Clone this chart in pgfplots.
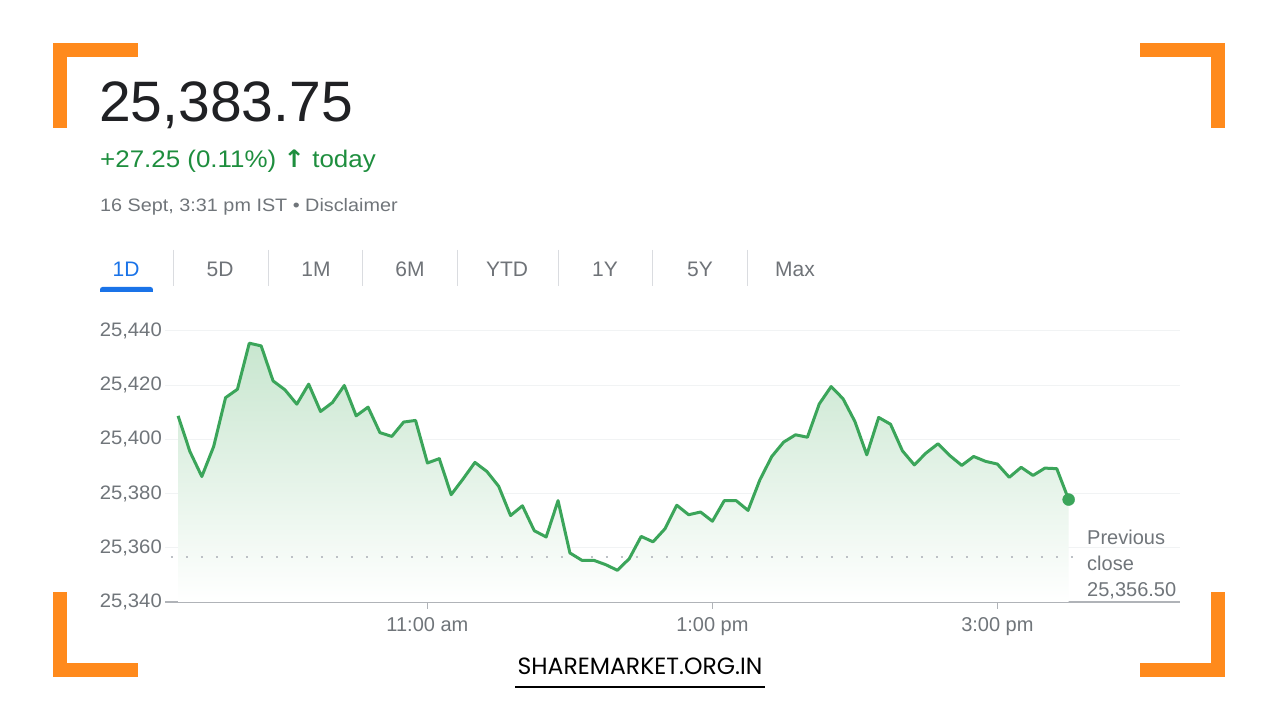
\documentclass[border=0pt]{standalone}
\usepackage{fontspec}
\setmainfont{Liberation Sans}
\newfontfamily\poppins{Poppins}
\newfontfamily\dejavu{DejaVu Sans}
\usepackage{pgfplots}
\pgfplotsset{compat=1.18}
\usepackage{pgfplotstable}
\definecolor{darktext}{HTML}{202124}
\definecolor{gtext}{HTML}{1E8E3E}
\definecolor{greytext}{HTML}{70757A}
\definecolor{tabgrey}{HTML}{6F7378}
\definecolor{gblue}{HTML}{1A73E8}
\definecolor{sepgrey}{HTML}{DADCE0}
\definecolor{borange}{HTML}{FF8A1C}
\definecolor{lgreen}{HTML}{3BA55A}
\definecolor{axisgrey}{HTML}{B0B3B8}
\definecolor{gridgrey}{HTML}{F1F3F4}
\definecolor{dotgrey}{HTML}{BDC1C6}
\definecolor{filltop}{HTML}{C8E6CF}
\definecolor{fillmid}{HTML}{F0F8F2}

\pgfplotstableread{
t v
555 25408.7
560 25395.5
565 25386.3
570 25397.4
575 25415.4
580 25418.5
585 25435.5
590 25434.5
595 25421.6
600 25418.3
605 25413.0
610 25420.4
615 25410.3
620 25413.6
625 25419.9
630 25408.7
635 25411.9
640 25402.5
645 25401.1
650 25406.4
655 25407.0
660 25391.3
665 25392.9
670 25379.6
675 25385.4
680 25391.5
685 25388.2
690 25382.7
695 25371.9
700 25375.5
705 25366.3
710 25364.0
715 25377.4
720 25358.1
725 25355.4
730 25355.4
735 25353.8
740 25351.7
745 25356.0
750 25364.2
755 25362.2
760 25367.0
765 25375.7
770 25372.2
775 25373.2
780 25369.8
785 25377.4
790 25377.4
795 25373.8
800 25385.1
805 25393.7
810 25399.0
815 25401.7
820 25400.8
825 25413.1
830 25419.5
835 25415.0
840 25406.6
845 25394.3
850 25408.1
855 25405.6
860 25395.8
865 25390.6
870 25395.0
875 25398.4
880 25394.0
885 25390.4
890 25393.7
895 25391.9
900 25390.9
905 25386.0
910 25389.7
915 25386.7
920 25389.4
925 25389.2
930 25377.8
}\nifty

\begin{document}
\begin{tikzpicture}[x=1pt,y=1pt]
\fill[white] (0,0) rectangle (1280,720);
\path[use as bounding box] (0,0) rectangle (1280,720);

% orange corner brackets
\fill[borange] (53,677) rectangle (138,663);
\fill[borange] (53,677) rectangle (67,592);
\fill[borange] (1140,677) rectangle (1225,663);
\fill[borange] (1211,677) rectangle (1225,592);
\fill[borange] (53,128) rectangle (67,43);
\fill[borange] (53,57) rectangle (138,43);
\fill[borange] (1211,128) rectangle (1225,43);
\fill[borange] (1140,57) rectangle (1225,43);

% header texts
\node[anchor=base west, inner sep=0pt, text=darktext, font=\fontsize{57}{57}\selectfont] at (99,598) {25,383.75};
\node[anchor=base west, inner sep=0pt, text=gtext, font=\fontsize{24}{24}\selectfont, xscale=1.08] at (100,552) {+27.25 (0.11\%) {\dejavu\bfseries ↑} today};
\node[anchor=base west, inner sep=0pt, text=greytext, font=\fontsize{18}{18}\selectfont, xscale=1.1] at (100,508) {16 Sept, 3:31 pm IST • Disclaimer};

% tabs
\foreach \lab/\xx in {5D/220,1M/316,6M/410,YTD/507,1Y/605,5Y/700,Max/795}{
  \node[anchor=base, inner sep=0pt, text=tabgrey, font=\fontsize{21}{21}\selectfont] at (\xx,443) {\lab};
}
\node[anchor=base, inner sep=0pt, text=gblue, font=\fontsize{21}{21}\selectfont] at (126,443) {1D};
\foreach \xx in {173,268,362,457,558,652,747}{
  \draw[sepgrey, line width=1pt] (\xx,470) -- (\xx,434);
}
\fill[gblue, rounded corners=2.5pt] (100,428) -- (100,433) -- (153,433) -- (153,428) -- cycle;
\fill[gblue] (100,428) rectangle (153,430.5);

\begin{axis}[
  at={(165pt,118pt)}, anchor=south west,
  scale only axis, width=1015pt, height=271pt,
  xmin=549.5, xmax=976.9, ymin=25340, ymax=25440,
  axis x line=bottom, axis y line=left,
  x axis line style={-, draw=axisgrey, line width=2pt},
  y axis line style={draw=none},
  xtick={660,780,900}, xticklabels={11:00 am,1:00 pm,3:00 pm},
  xtick style={draw=axisgrey, line width=1.5pt},
  tick align=outside, major tick length=7pt,
  ytick={25340,25360,25380,25400,25420,25440},
  ytick style={draw=none},
  scaled y ticks=false,
  yticklabel style={font=\fontsize{19.5}{19.5}\selectfont, text=greytext, inner sep=0pt, anchor=east, xshift=4pt, xscale=1.04, /pgf/number format/.cd, fixed, precision=0, 1000 sep={,}, assume math mode=true},
  ymajorgrids, grid style={draw=gridgrey, line width=1pt},
  xticklabel style={font=\fontsize{20}{20}\selectfont, text=greytext, inner sep=0pt, anchor=north, yshift=-8pt},
]
\addplot[draw=none, top color=filltop, middle color=fillmid, bottom color=white, forget plot] table[x=t, y=v] {\nifty} \closedcycle;
\addplot[dotgrey, line width=2pt, dash pattern=on 2pt off 13pt, forget plot] coordinates {(552,25356.5) (937,25356.5)};
\addplot[lgreen, line width=3pt, line join=round, mark=none] table[x=t, y=v] {\nifty};
\addplot[only marks, mark=*, mark size=6pt, color=lgreen, mark options={fill=lgreen, draw=lgreen}] coordinates {(930,25377.8)};
\end{axis}

% previous close label
\node[anchor=base west, inner sep=0pt, text=greytext, font=\fontsize{20}{20}\selectfont] at (1087,175) {Previous};
\node[anchor=base west, inner sep=0pt, text=greytext, font=\fontsize{20}{20}\selectfont] at (1087,149) {close};
\node[anchor=base west, inner sep=0pt, text=greytext, font=\fontsize{20}{20}\selectfont] at (1087,123) {25,356.50};

% watermark
\node[anchor=base, inner sep=0pt, text=black, font=\poppins\fontsize{23.5}{23.5}\selectfont] at (640,45) {SHAREMARKET.ORG.IN};
\draw[black, line width=2pt] (515,33) -- (765,33);
\end{tikzpicture}
\end{document}
